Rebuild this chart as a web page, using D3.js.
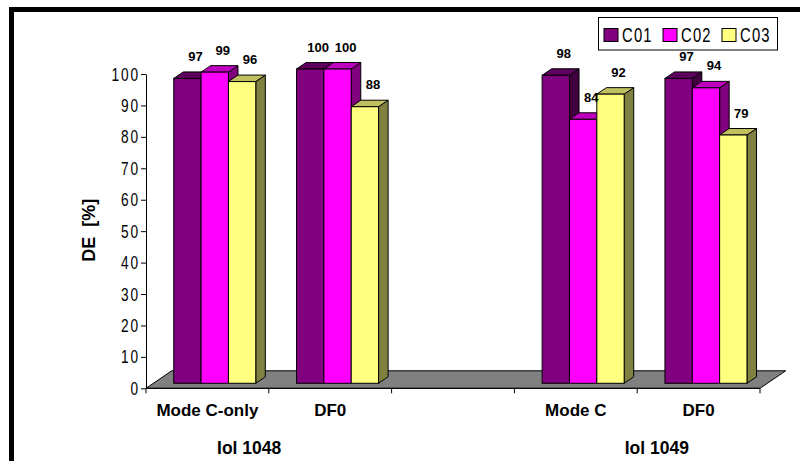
<!DOCTYPE html>
<html>
<head>
<meta charset="utf-8">
<script src="https://cdn.jsdelivr.net/npm/d3@7"></script>
<style>
  html, body { margin: 0; padding: 0; background: #fff; }
  svg { display: block; }
</style>
</head>
<body>
<svg id="chart" width="800" height="461"></svg>
<script>
// Category axis: two instrument groups, with an empty slot between them
const categories = ["Mode C-only", "DF0", "", "Mode C", "DF0"];
const groupNames = ["Iol 1048", "Iol 1049"];
const groupMembers = [[0, 1], [3, 4]];
const seriesNames = ["C01", "C02", "C03"];
const valuesC01 = [97, 100, null, 98, 97];
const valuesC02 = [99, 100, null, 84, 94];
const valuesC03 = [96, 88, null, 92, 79];
const yTicks = [0, 10, 20, 30, 40, 50, 60, 70, 80, 90, 100];

const series = [valuesC01, valuesC02, valuesC03];
const palette = [
  { front: "#800080", top: "#5e005e", side: "#400040" },
  { front: "#ff00ff", top: "#c000c0", side: "#800080" },
  { front: "#ffff80", top: "#c0c060", side: "#808040" }
];

const sans = "'Liberation Sans', Arial, sans-serif";
// Narrow look for axis numbers and legend: horizontally squeezed sans
const squeeze = 0.76, spacing = 2.4;

const svg = d3.select("#chart");

// Frame lines along the top and left edge
svg.append("rect").attr("x", 9).attr("y", 7).attr("width", 791).attr("height", 5).attr("fill", "#000");
svg.append("rect").attr("x", 9).attr("y", 7).attr("width", 5).attr("height", 454).attr("fill", "#000");

// Plot geometry
const x0 = 146, x1 = 760;
const y = d3.scaleLinear().domain([0, 100]).range([388.3, 74]);
const x = d3.scaleBand().domain(d3.range(categories.length)).range([x0, x1]).paddingInner(0).paddingOuter(0);
const band = x.bandwidth();
const barsWidth = band * 0.668;
const xs = d3.scaleBand().domain(seriesNames).range([0, barsWidth]);

// Oblique depth projection: dx per unit of vertical rise
const k = 1.47;
const floorDepth = 17.5;   // total depth of the floor
const barFront = 5;        // bar front plane depth
const barDepth = 6.5;      // bar thickness in depth

// Floor
const yb = y(0);
svg.append("polygon")
  .attr("points", [
    [x0, yb], [x0 + k * floorDepth, yb - floorDepth],
    [x1 + k * floorDepth, yb - floorDepth], [x1, yb]
  ].map(p => p.join(",")).join(" "))
  .attr("fill", "#808080").attr("stroke", "#000").attr("stroke-width", 1);

// Y axis
const yAxis = d3.axisLeft(y).tickValues(yTicks).tickSize(5).tickSizeOuter(0).tickPadding(4);
const gy = svg.append("g").attr("transform", `translate(${x0},0)`).call(yAxis);
gy.select(".domain").attr("stroke", "#000");
gy.selectAll(".tick line").attr("stroke", "#000");
gy.selectAll(".tick text")
  .attr("font-family", sans).attr("font-size", 18).attr("letter-spacing", spacing)
  .attr("fill", "#000")
  .attr("transform", `scale(${squeeze},1)`)
  .attr("x", -8 / squeeze + spacing)
  .attr("dy", "0.34em");

// X axis line with boundary ticks
svg.append("line").attr("x1", x0).attr("x2", x1).attr("y1", yb).attr("y2", yb).attr("stroke", "#000");
const bounds = d3.range(categories.length + 1).map(i => x0 + i * band);
svg.selectAll(".xtick").data(bounds).enter().append("line")
  .attr("x1", d => d).attr("x2", d => d).attr("y1", yb).attr("y2", yb + 5).attr("stroke", "#000");

// Bars
const fx = k * barFront, fy = barFront;
const dx = k * barDepth, dy = barDepth;
const gBars = svg.append("g");
const labels = [];
categories.forEach((cat, ci) => {
  seriesNames.forEach((s, si) => {
    const v = series[si][ci];
    if (v == null) return;
    const left = x(ci) + (band - barsWidth) / 2 + xs(s) + fx;
    const w = xs.bandwidth();
    const bottom = y(0) - fy;
    const top = y(v) - fy;
    const c = palette[si];
    // side face
    gBars.append("polygon")
      .attr("points", [[left + w, bottom], [left + w + dx, bottom - dy], [left + w + dx, top - dy], [left + w, top]].map(p => p.join(",")).join(" "))
      .attr("fill", c.side).attr("stroke", "#000").attr("stroke-width", 1).attr("stroke-linejoin", "round");
    // top face
    gBars.append("polygon")
      .attr("points", [[left, top], [left + dx, top - dy], [left + w + dx, top - dy], [left + w, top]].map(p => p.join(",")).join(" "))
      .attr("fill", c.top).attr("stroke", "#000").attr("stroke-width", 1).attr("stroke-linejoin", "round");
    // front face
    gBars.append("rect")
      .attr("x", left).attr("y", top).attr("width", w).attr("height", bottom - top)
      .attr("fill", c.front).attr("stroke", "#000").attr("stroke-width", 1);
    labels.push({ v, cx: left + w / 2 + 8, by: top - dy - 11 });
  });
});

// Value labels
svg.selectAll(".vlabel").data(labels).enter().append("text")
  .attr("x", d => d.cx).attr("y", d => d.by)
  .attr("text-anchor", "middle")
  .attr("font-family", sans).attr("font-weight", "bold").attr("font-size", 13)
  .attr("fill", "#000")
  .text(d => d.v);

// Category labels
svg.selectAll(".clabel").data(categories).enter().append("text")
  .attr("x", (d, i) => x(i) + band / 2).attr("y", 416)
  .attr("text-anchor", "middle")
  .attr("font-family", sans).attr("font-weight", "bold").attr("font-size", 17)
  .text(d => d);

// Group labels
const groupOffset = [-0.16, 0.16];
svg.selectAll(".glabel").data(groupNames).enter().append("text")
  .attr("x", (d, gi) => {
    const m = groupMembers[gi];
    return (x(m[0]) + x(m[m.length - 1]) + band) / 2 + groupOffset[gi] * band;
  })
  .attr("y", 454)
  .attr("text-anchor", "middle")
  .attr("font-family", sans).attr("font-weight", "bold").attr("font-size", 17.5)
  .text(d => d);

// Y axis title
svg.append("text")
  .attr("transform", `translate(95,${(y(0) + y(100)) / 2 - 1}) rotate(-90)`)
  .attr("text-anchor", "middle")
  .attr("font-family", sans).attr("font-weight", "bold").attr("font-size", 18)
  .text("DE\u00a0\u00a0[%]");

// Legend
const lg = svg.append("g").attr("transform", "translate(598.5,17.5)");
lg.append("rect").attr("width", 179).attr("height", 32.5).attr("fill", "#fff").attr("stroke", "#000");
const items = lg.selectAll(".li").data(seriesNames).enter().append("g")
  .attr("transform", (d, i) => `translate(${5.5 + i * 59},11)`);
items.append("rect").attr("width", 14).attr("height", 13)
  .attr("fill", (d, i) => palette[i].front).attr("stroke", "#000");
items.append("text")
  .attr("transform", `translate(18,13.3) scale(${squeeze},1)`)
  .attr("font-family", sans).attr("font-size", 19.5).attr("letter-spacing", 1.6)
  .text(d => d);
</script>
</body>
</html>
